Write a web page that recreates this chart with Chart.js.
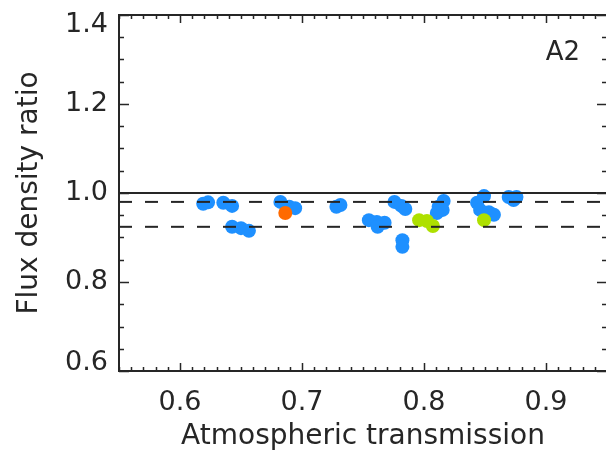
<!DOCTYPE html>
<html><head><meta charset="utf-8">
<script src="https://cdn.jsdelivr.net/npm/chart.js@4.4.1/dist/chart.umd.min.js"></script>
<style>html,body{margin:0;padding:0;overflow:hidden;background:#fff;width:606px;height:454px}canvas{display:block}</style>
</head><body>
<canvas id="c" width="614" height="454"></canvas>
<script>
// ---- data ----
const xRange = [0.55, 0.95];
const yRange = [0.6, 1.4];
const xTickValues = [0.6, 0.7, 0.8, 0.9];
const yTickValues = [0.6, 0.8, 1.0, 1.2, 1.4];
const blueX = [0.619, 0.623, 0.6355, 0.6427, 0.6427, 0.650, 0.6565, 0.6823, 0.6895, 0.6944, 0.7282, 0.7315,
               0.7548, 0.7613, 0.7677, 0.762, 0.7758, 0.7815, 0.7847, 0.7823, 0.7823,
               0.8161, 0.812, 0.8153, 0.8105, 0.8492, 0.8435, 0.846, 0.8532, 0.8573, 0.8694, 0.8758, 0.8734];
const blueY = [0.976, 0.979, 0.978, 0.971, 0.924, 0.921, 0.915, 0.980, 0.969, 0.966, 0.969, 0.973,
               0.939, 0.935, 0.933, 0.924, 0.980, 0.971, 0.964, 0.894, 0.879,
               0.982, 0.969, 0.962, 0.955, 0.993, 0.978, 0.962, 0.957, 0.951, 0.991, 0.991, 0.984];
const orangeX = [0.6863];
const orangeY = [0.955];
const greenX = [0.796, 0.8024, 0.8073, 0.8492];
const greenY = [0.939, 0.937, 0.926, 0.939];
const solidLevel = 1.0;
const dashedLevels = [0.980, 0.924];
const panelLabel = 'A2';
const xTitle = 'Atmospheric transmission';
const yTitle = 'Flux density ratio';

const pts = (xs, ys) => xs.map((x, i) => ({x, y: ys[i]}));
const hline = y => [{x: xRange[0], y}, {x: xRange[1], y}];

const FONT = 'DejaVu Sans';
const INK = '#262626';

const framePlugin = {
  id: 'frame',
  afterDraw(chart) {
    const {ctx, chartArea: a, scales: {x, y}} = chart;
    ctx.save();
    ctx.strokeStyle = INK;
    ctx.lineWidth = 2;
    ctx.strokeRect(a.left, a.top, a.right - a.left, a.bottom - a.top);
    ctx.lineWidth = 1.5;
    ctx.beginPath();
    for (let i = Math.round(xRange[0] * 100); i <= Math.round(xRange[1] * 100); i++) {
      const v = i / 100;
      const px = Math.round(x.getPixelForValue(v)) + 0.5;
      const major = i % 10 === 0;
      const len = major ? 8 : 4;
      ctx.moveTo(px, a.bottom); ctx.lineTo(px, a.bottom - len);
      ctx.moveTo(px, a.top); ctx.lineTo(px, a.top + len);
    }
    for (let i = Math.round(yRange[0] * 100); i <= Math.round(yRange[1] * 100); i += 5) {
      const v = i / 100;
      const py = Math.round(y.getPixelForValue(v)) + 0.5;
      const major = i % 20 === 0;
      const len = major ? 10 : 5;
      ctx.moveTo(a.left, py); ctx.lineTo(a.left + len, py);
      ctx.moveTo(a.right, py); ctx.lineTo(a.right - len, py);
    }
    ctx.stroke();
    ctx.fillStyle = INK;
    // y tick labels, kept inside the axis extent
    ctx.font = '27px "' + FONT + '"';
    ctx.textAlign = 'right';
    ctx.textBaseline = 'middle';
    yTickValues.forEach(v => {
      const py = Math.min(Math.max(y.getPixelForValue(v), a.top + 10), a.bottom - 8);
      ctx.fillText(v.toFixed(1), a.left - 11, py);
    });
    ctx.font = '26px "' + FONT + '"';
    ctx.textAlign = 'center';
    ctx.fillText(panelLabel, 563, 53);
    ctx.restore();
  }
};

new Chart(document.getElementById('c'), {
  type: 'scatter',
  data: {
    datasets: [
      {type: 'line', data: hline(solidLevel), borderColor: INK, borderWidth: 2, pointRadius: 0, order: 0},
      {type: 'line', data: hline(dashedLevels[0]), borderColor: INK, borderWidth: 2, borderDash: [13, 13], pointRadius: 0, order: 0},
      {type: 'line', data: hline(dashedLevels[1]), borderColor: INK, borderWidth: 2, borderDash: [13, 13], pointRadius: 0, order: 0},
      {data: pts(orangeX, orangeY), backgroundColor: '#ff6a00', pointRadius: 7, borderWidth: 0, order: 1},
      {data: pts(greenX, greenY), backgroundColor: '#aee000', pointRadius: 7, borderWidth: 0, order: 1},
      {data: pts(blueX, blueY), backgroundColor: '#1e90ff', pointRadius: 7, borderWidth: 0, order: 2}
    ]
  },
  options: {
    responsive: false,
    animation: false,
    devicePixelRatio: 1,
    layout: {padding: {top: 15, right: 2, left: 0, bottom: 0}},
    plugins: {legend: {display: false}, tooltip: {enabled: false}},
    scales: {
      x: {
        type: 'linear', min: xRange[0], max: xRange[1],
        afterBuildTicks: s => { s.ticks = xTickValues.map(v => ({value: v})); },
        afterFit: s => { s.height = 83; s.paddingLeft = 0; s.paddingRight = 0; },
        grid: {display: false, drawTicks: false},
        border: {display: false},
        ticks: {padding: 18, color: INK, font: {family: FONT, size: 27, lineHeight: 1.0},
                callback: v => v.toFixed(1), maxRotation: 0, autoSkip: false},
        title: {display: true, text: xTitle, color: INK, font: {family: FONT, size: 28, lineHeight: 1.2}, padding: {top: 0, bottom: 0}}
      },
      y: {
        type: 'linear', min: yRange[0], max: yRange[1],
        afterBuildTicks: s => { s.ticks = yTickValues.map(v => ({value: v})); },
        afterFit: s => { s.width = 119; s.paddingTop = 0; s.paddingBottom = 0; },
        grid: {display: false, drawTicks: false},
        border: {display: false},
        ticks: {display: false},
        title: {display: true, text: yTitle, color: INK, font: {family: FONT, size: 28, lineHeight: 1.2}, padding: {top: 13, bottom: 0}}
      }
    }
  },
  plugins: [framePlugin]
});
</script>
</body></html>
